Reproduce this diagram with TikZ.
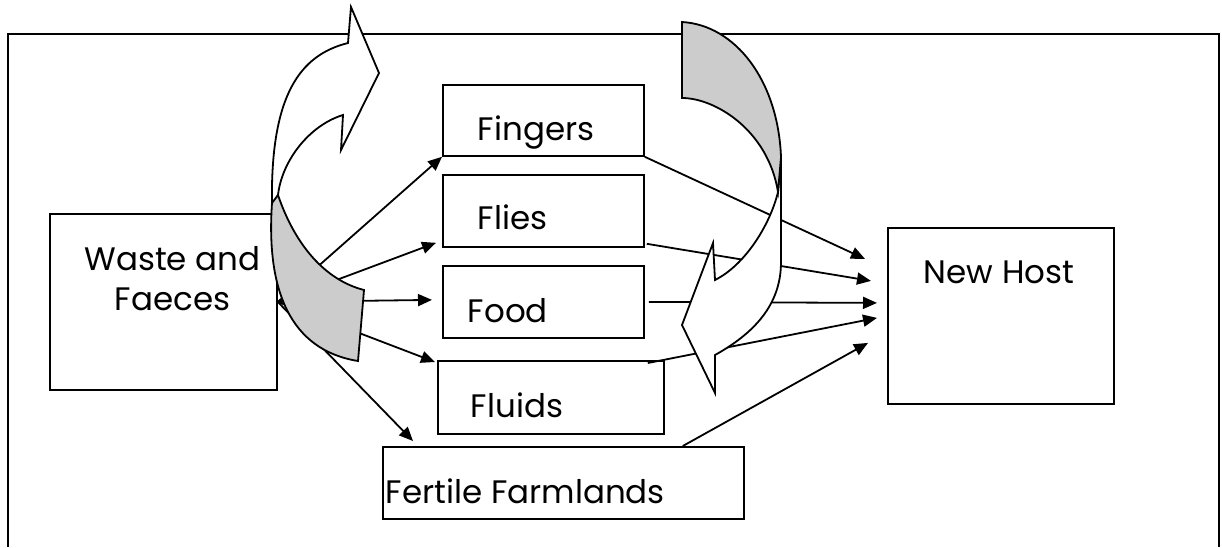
\documentclass[tikz,border=0pt]{standalone}
\usepackage{fontspec}
\setmainfont{Poppins}
\usetikzlibrary{arrows.meta,calc}

\begin{document}
\begin{tikzpicture}[x=1pt,y=-1pt,line width=1.8pt,
    box/.style={draw, rectangle, anchor=north west, inner sep=0pt},
    txt/.style={anchor=base west, inner sep=0pt, font=\fontsize{32.5}{40}\selectfont},
    flow/.style={-{Triangle[length=14pt,width=12pt]}}]
    \useasboundingbox (0,0) rectangle (1222,547);

    % Outer frame
    \draw (8,547) -- (8,34) -- (1219,34) -- (1219,547);

    % Boxes
    \node[box, minimum width=227, minimum height=176] (Waste) at (49,213) {};
    \node[box, minimum width=201, minimum height=71] (Fingers) at (442,84) {};
    \node[box, minimum width=201, minimum height=72] (Flies) at (442,174) {};
    \node[box, minimum width=201, minimum height=72] (Food) at (442,265) {};
    \node[box, minimum width=226, minimum height=73] (Fluids) at (437,360) {};
    \node[box, minimum width=361, minimum height=72] (Fertile) at (382,446) {};
    \node[box, minimum width=226, minimum height=176] (Host) at (887,227) {};

    % Labels
    \node[txt, anchor=base] (WasteT) at ($(Waste.north west)+(123.5,57)$) {Waste and};
    \node[txt, anchor=base] (WasteT2) at ($(Waste.north west)+(123.5,97)$) {Faeces};
    \node[txt] (FingersT) at ($(Fingers.north west)+(35,56)$) {Fingers};
    \node[txt] (FliesT) at ($(Flies.north west)+(35,55)$) {Flies};
    \node[txt] (FoodT) at ($(Food.north west)+(25,57)$) {Food};
    \node[txt] (FluidsT) at ($(Fluids.north west)+(33,57)$) {Fluids};
    \node[txt] (FertileT) at ($(Fertile.north west)+(3,57)$) {Fertile Farmlands};
    \node[txt] (HostT) at ($(Host.north west)+(36,56)$) {New Host};

    % Waste to the carriers
    \draw[flow] (Waste.east) -- (Fingers.south west);
    \draw[flow] (Waste.east) -- ($(Flies.south west)+(-6,-5)$);
    \draw[flow] (Waste.east) -- ($(Food.west)+(-10,-2)$);
    \draw[flow] (Waste.east) -- ($(Fluids.north west)+(-2,2)$);
    \draw[flow] (Waste.east) -- ($(Fertile.north west)+(31,-5)$);

    % Carriers to the new host
    \draw[flow] (Fingers.south east) -- ($(Host.west)+(-22,-57)$);
    \draw[flow] ($(Flies.south east)+(2,-4)$) -- ($(Host.west)+(-16,-35)$);
    \draw[flow] ($(Food.east)+(4,0)$) -- ($(Host.west)+(-10,-13)$);
    \draw[flow] ($(Fluids.north east)+(-17,3)$) -- ($(Host.west)+(-10,2)$);
    \draw[flow] ($(Fertile.north east)+(-62,0)$) -- ($(Host.west)+(-19,27)$);

    % Curved arrow, left
    \draw[fill=white] (272,206) .. controls (270,95) and (300,55) .. (348,43)
        -- (351,7) -- (379,73) -- (341,150) -- (343,115)
        .. controls (310,125) and (282,160) .. (278,195) -- cycle;
    \draw[fill=black!20] (278,195) .. controls (295,245) and (325,280) .. (364,290)
        -- (358,361) .. controls (290,350) and (266,290) .. (272,203) -- cycle;

    % Curved arrow, right
    \draw[fill=white] (778,192) .. controls (770,225) and (745,265) .. (715,280)
        -- (713,243) -- (682,325) -- (715,393) -- (715,355)
        .. controls (760,330) and (781,300) .. (781,262) -- (781,157) -- cycle;
    \draw[fill=black!20] (682,22) -- (682,98) .. controls (715,98) and (768,130) .. (778,192)
        -- (781,157) .. controls (778,80) and (735,25) .. (682,22) -- cycle;

\end{tikzpicture}
\end{document}
